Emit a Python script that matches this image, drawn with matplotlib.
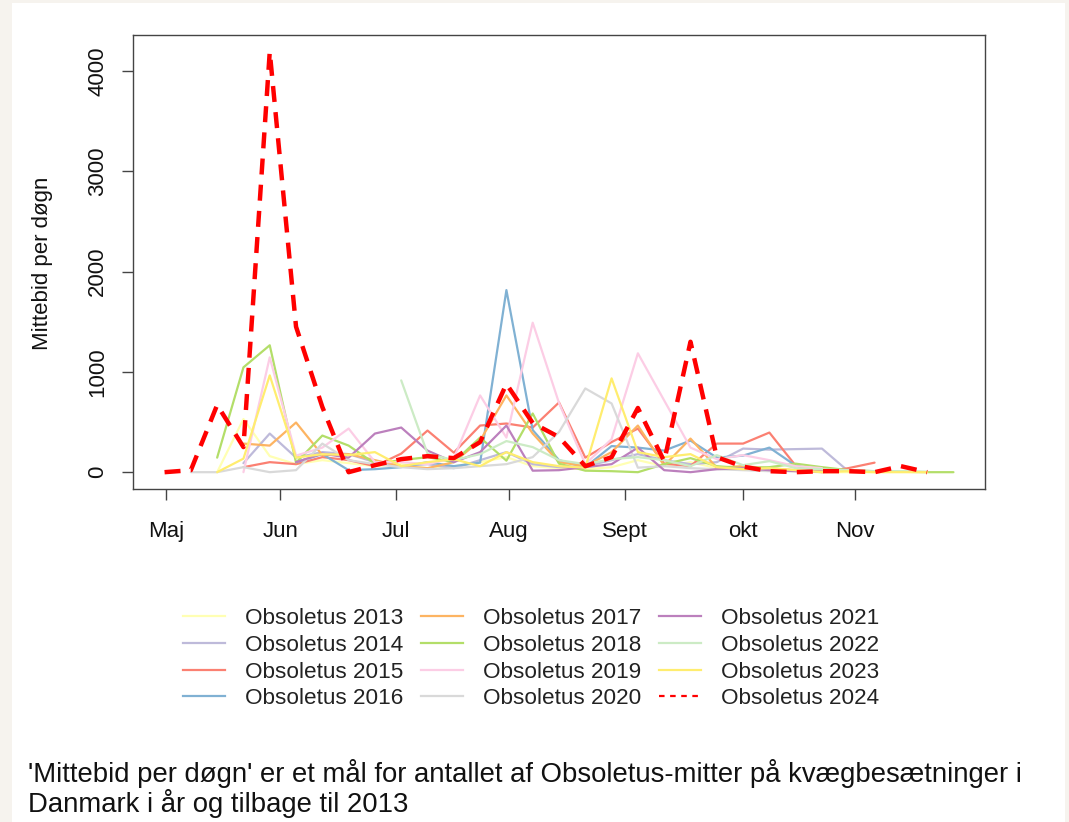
import numpy as np
import matplotlib
matplotlib.use("Agg")
import matplotlib.pyplot as plt
from matplotlib.lines import Line2D
from matplotlib.patches import Rectangle

plt.rcParams['font.family'] = ['Liberation Sans', 'DejaVu Sans']

nan = np.nan
weeks = list(range(18, 49))

month_labels = ["Maj", "Jun", "Jul", "Aug", "Sept", "okt", "Nov"]
month_weeks = [18.05, 22.4, 26.8, 31.1, 35.5, 40.0, 44.25]

y2013 = [nan, nan, 0, 530, 160, 80, 120, 90, 60, 80, 40, 60, 100, 150, 60, 40, 30, 50, 120, 60, 100, 40, 30, 20, 10, 0, 0, 0, nan, nan, nan]
y2014 = [nan, nan, nan, 90, 385, 145, 200, 180, 100, 60, 80, 40, 120, 200, 80, 50, 60, 120, 180, 120, 80, 100, 235, 225, 230, 235, 10, nan, nan, nan, nan]
y2015 = [nan, nan, nan, 50, 100, 80, 150, 120, 60, 185, 415, 195, 465, 485, 445, 695, 145, 300, 435, 85, 60, 285, 285, 395, 65, 0, 40, 95, nan, nan, nan]
y2016 = [nan, nan, nan, nan, nan, 100, 180, 20, 30, 50, 100, 60, 95, 1815, 420, 120, 50, 260, 245, 215, 315, 145, 165, 245, 65, 20, nan, nan, nan, nan, nan]
y2017 = [nan, nan, nan, 285, 265, 495, 170, 180, 120, 60, 40, 100, 315, 765, 385, 100, 60, 200, 465, 65, 335, 45, 60, 40, 20, 10, nan, nan, nan, nan, nan]
y2018 = [nan, nan, 145, 1045, 1265, 95, 365, 265, 85, 120, 150, 100, 345, 115, 585, 85, 15, 10, 0, 80, 140, 60, 40, 50, 85, 50, 20, 10, 5, 0, 0]
y2019 = [nan, nan, nan, 0, 1145, 165, 245, 435, 100, 100, 80, 140, 765, 345, 1490, 690, 80, 330, 1185, 715, 245, 130, 170, 120, 60, 40, nan, nan, nan, nan, nan]
y2020 = [nan, 0, 0, 50, 0, 20, 285, 120, 80, 50, 30, 40, 60, 80, 150, 400, 835, 685, 45, 60, 40, 30, 20, 10, 10, 0, nan, nan, nan, nan, nan]
y2021 = [nan, nan, nan, nan, nan, 100, 185, 145, 385, 445, 215, 100, 200, 465, 15, 20, 50, 80, 245, 20, 0, 30, 40, 20, 10, 5, nan, nan, nan, nan, nan]
y2022 = [nan, nan, nan, nan, nan, nan, nan, nan, nan, 915, 185, 120, 180, 310, 250, 120, 80, 130, 150, 120, 60, 170, 70, 110, 40, 30, 20, 10, 10, 5, nan]
y2023 = [nan, nan, 0, 135, 965, 145, 180, 170, 200, 60, 100, 130, 60, 200, 100, 60, 45, 935, 200, 150, 180, 50, 30, 40, 20, 0, 10, 0, 0, 0, nan]
y2024 = [0, 20, 670, 250, 4190, 1450, 650, 0, 70, 130, 160, 140, 300, 880, 490, 350, 60, 150, 640, 110, 1300, 150, 55, 10, 0, 10, 10, 0, 60, 0, nan]

series = [y2013, y2014, y2015, y2016, y2017, y2018, y2019, y2020, y2021, y2022, y2023]
labels = ["Obsoletus %d" % y for y in range(2013, 2025)]
colors = ["#FFFFB3", "#BEBADA", "#FB8072", "#80B1D3", "#FDB462", "#B3DE69",
          "#FCCDE5", "#D9D9D9", "#BC80BD", "#CCEBC5", "#FFED6F"]

W, H = 1069, 822
fig = plt.figure(figsize=(W / 100, H / 100), dpi=100, facecolor="#f6f3ee")
fig.patches.append(Rectangle((12 / W, 0), (1065 - 12) / W, (822 - 3) / H,
                             transform=fig.transFigure, facecolor="white",
                             edgecolor="none", zorder=-10))

ax = fig.add_axes([133 / W, 1 - 489 / H, (985 - 133) / W, (489 - 35) / H])
ax.set_zorder(5)
ax.set_facecolor("white")

for ys, c in zip(series, colors):
    ax.plot(weeks, ys, color=c, lw=1.6, solid_joinstyle="round", solid_capstyle="round")
ax.plot(weeks, y2024, color="#FF0000", lw=3.2, ls=(0, (3.6, 2.3)),
        dash_capstyle="butt")

ax.margins(x=0.04, y=0.04)
ax.set_xticks(month_weeks)
ax.set_xticklabels(month_labels)
ax.set_yticks([0, 1000, 2000, 3000, 4000])
ax.set_yticklabels(["0", "1000", "2000", "3000", "4000"], rotation=90, va="center")
ax.tick_params(axis="both", labelsize=16, length=8, width=1, color="#444444",
               labelcolor="#111111")
ax.tick_params(axis="y", pad=10)
ax.tick_params(axis="x", pad=15)
for s in ax.spines.values():
    s.set_color("#444444")
    s.set_linewidth(1)

fig.text(43 / W, 1 - 263 / H, "Mittebid per døgn", rotation=90, ha="center",
         va="center", fontsize=16, color="#111111")

handles = [Line2D([], [], color=c, lw=1.6) for c in colors]
handles.append(Line2D([], [], color="#FF0000", lw=1.6, ls=(0, (2.5, 2.5))))
leg = fig.legend(handles, labels, ncol=3, loc="upper left",
                 bbox_to_anchor=(172 / W, 1 - 597 / H), frameon=False,
                 fontsize=16.2, handlelength=1.86, handletextpad=0.9,
                 columnspacing=0.78, labelspacing=0.25, borderpad=0,
                 labelcolor="#222222")

fig.text(28 / W, 1 - 773 / H,
         "'Mittebid per døgn' er et mål for antallet af Obsoletus-mitter på kvægbesætninger i",
         ha="left", va="center", fontsize=19.8, color="#111111")
fig.text(28 / W, 1 - 803 / H, "Danmark i år og tilbage til 2013",
         ha="left", va="center", fontsize=19.8, color="#111111")

fig.savefig("out.png", dpi=100, facecolor=fig.get_facecolor())
